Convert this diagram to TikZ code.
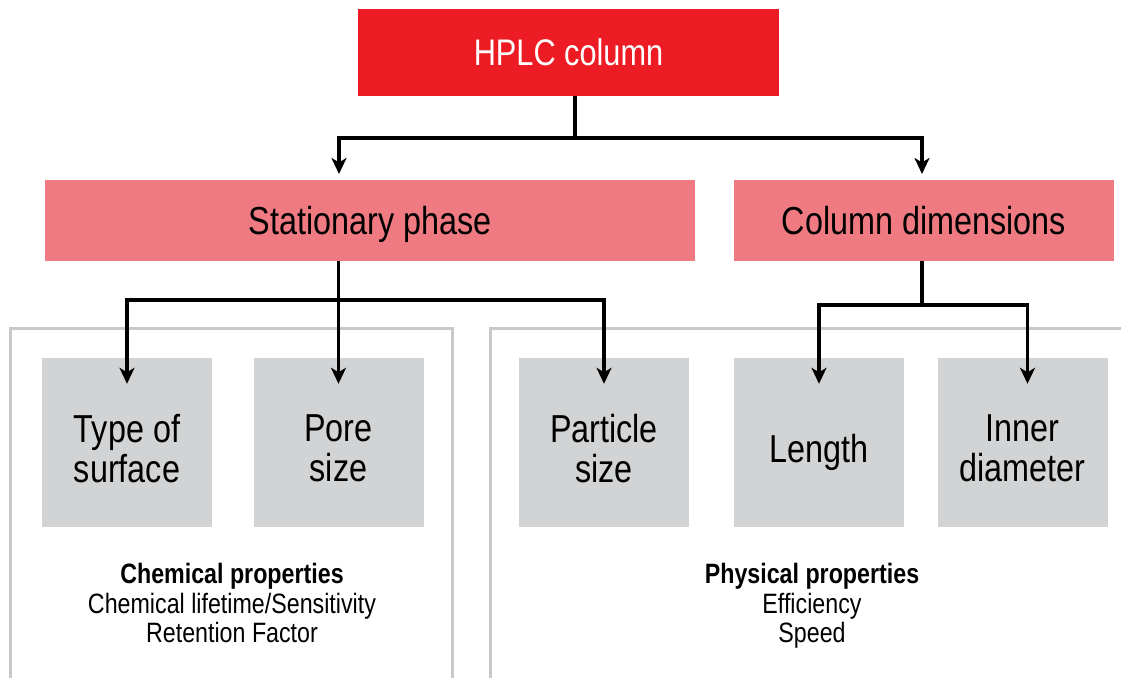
\documentclass[tikz,border=0pt]{standalone}
\usepackage{fontspec}
\setmainfont{Liberation Sans}[FakeStretch=0.83]
\usetikzlibrary{arrows.meta}
\definecolor{hplcred}{HTML}{ED1C24}
\definecolor{phasepink}{HTML}{F07A82}
\definecolor{propgray}{HTML}{D1D3D4}
\definecolor{framegray}{HTML}{C8C8C8}
\begin{document}
\begin{tikzpicture}[x=1pt,y=-1pt,
  bigtext/.style={font=\fontsize{39}{40}\selectfont, text depth=0pt, align=center},
  topbox/.style={fill=hplcred, text=white, minimum width=421pt, minimum height=87pt, inner sep=0pt, bigtext},
  phasebox/.style={fill=phasepink, minimum height=81pt, inner sep=0pt, bigtext},
  propbox/.style={fill=propgray, minimum width=170pt, minimum height=169pt, inner sep=0pt},
  proptext/.style={bigtext, inner sep=0pt},
  conn/.style={line width=3.2pt, draw=black, line join=miter},
  arr/.style={conn, -{Stealth[length=16pt,width=15pt,inset=4.5pt]}},
  frameline/.style={draw=framegray, line width=3pt},
  note/.style={align=center, font=\fontsize{28}{29.5}\selectfont, text depth=0pt, inner sep=0pt}
]
\useasboundingbox (0,0) rectangle (1121,678);

% frames
\draw[frameline] (10,678) -- (10,328) -- (452,328) -- (452,678);
\draw[frameline] (490,678) -- (490,328) -- (1121,328);

% boxes
\node[topbox] (hplc) at (568.5,52.5) {\fontsize{37}{40}\selectfont HPLC column};
\node[phasebox, minimum width=650pt] (stat) at (370,220.5) {Stationary phase};
\node[phasebox, minimum width=380pt] (dims) at (924,220.5) {Column dimensions};

\node[propbox] (type) at (127,442.5) {};
\node[propbox] (pore) at (338.5,442.5) {};
\node[propbox] (particle) at (604,442.5) {};
\node[propbox] (length) at (819,442.5) {};
\node[propbox] (inner) at (1022.5,442.5) {};

\node[proptext] (typet) at (127,448) {Type of\\surface};
\node[proptext] (poret) at (338.5,448) {Pore\\size};
\node[proptext] (particlet) at (604,448) {Particle\\size};
\node[proptext] (lengtht) at (819,448) {Length};
\node[proptext] (innert) at (1022.5,448) {Inner\\diameter};

\node[note] (chem) at (232,603) {\textbf{Chemical properties}\\Chemical lifetime/Sensitivity\\Retention Factor};
\node[note] (phys) at (812,603) {\textbf{Physical properties}\\Efficiency\\Speed};

% connectors
\coordinate (hj) at (575,138);
\coordinate (sj) at (338.5,300);
\coordinate (dj) at (922,305);
\coordinate (statin) at (339,174);
\coordinate (dimsin) at (922,174);

\draw[conn] ([xshift=6.5pt]hplc.south) -- (hj);
\draw[arr] (hj) -| (statin);
\draw[arr] (hj) -| (dimsin);

\draw[arr] (stat.south -| pore) -- ([yshift=-26pt]pore.north);
\draw[arr] (sj) -| ([yshift=-26pt]type.north);
\draw[arr] (sj) -| ([yshift=-26pt]particle.north);

\draw[conn] ([xshift=-2pt]dims.south) -- (dj);
\draw[arr] (dj) -| ([yshift=-26pt]length.north);
\draw[arr] (dj) -| ([xshift=5pt,yshift=-26pt]inner.north);
\end{tikzpicture}
\end{document}
